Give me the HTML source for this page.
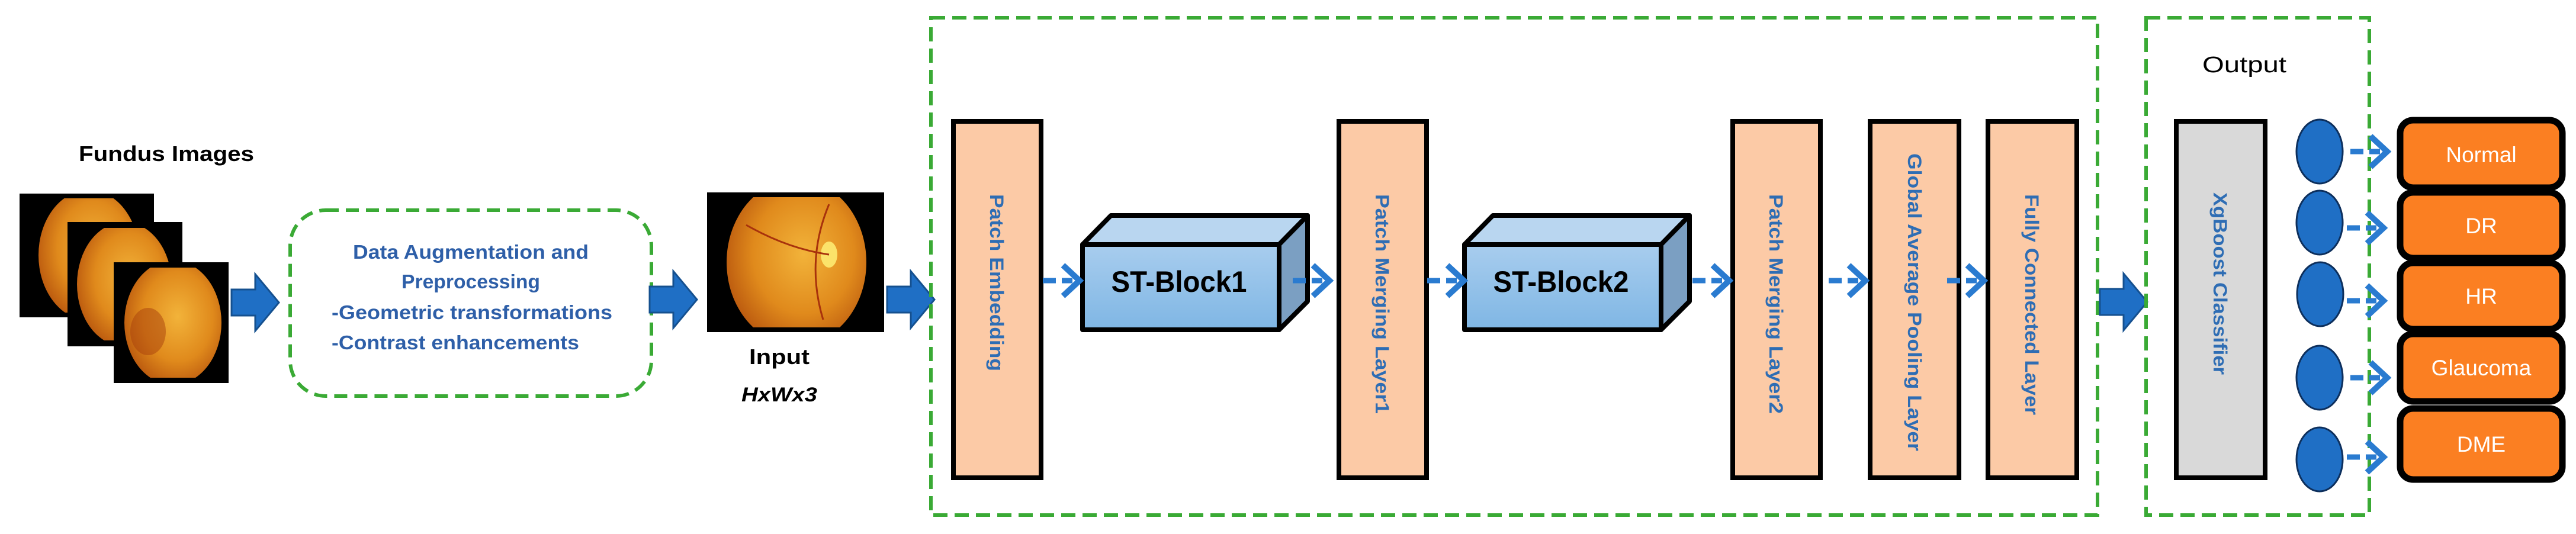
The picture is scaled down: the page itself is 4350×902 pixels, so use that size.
<!DOCTYPE html>
<html><head><meta charset="utf-8"><style>
html,body{margin:0;padding:0;background:#fff;}
svg{display:block;}
text{font-family:"Liberation Sans",sans-serif;}
</style></head><body>
<svg width="4350" height="902" viewBox="0 0 4350 902" xmlns="http://www.w3.org/2000/svg">
<defs>
<radialGradient id="eye" cx="0.55" cy="0.45" r="0.6">
<stop offset="0" stop-color="#f2b33a"/><stop offset="0.6" stop-color="#e08a1c"/><stop offset="1" stop-color="#b8560e"/>
</radialGradient>
<linearGradient id="stf" x1="0" y1="0" x2="0" y2="1"><stop offset="0" stop-color="#a8cdee"/><stop offset="1" stop-color="#7fb6e4"/></linearGradient>
<g id="chev">
<path d="M-62 0 h22 M-30 0 h18" stroke="#2a7bd0" stroke-width="9" fill="none"/>
<path d="M-28 -26 L0 0 L-28 26" stroke="#2a7bd0" stroke-width="10" fill="none"/>
</g>
<g id="bigarrow">
<path d="M0 -22 H40 V-48 L80 0 L40 48 V22 H0 Z" fill="#1f6fc5" stroke="#15508f" stroke-width="3"/>
</g>
</defs>

<text x="133" y="272" font-size="36" font-weight="bold" textLength="296" lengthAdjust="spacingAndGlyphs">Fundus Images</text>
<g>
<rect x="33" y="327" width="227" height="209" fill="#000"/>
<clipPath id="c1"><rect x="33" y="335" width="227" height="193"/></clipPath>
<ellipse cx="150" cy="431" rx="85" ry="110" fill="url(#eye)" clip-path="url(#c1)"/>
<rect x="114" y="375" width="194" height="210" fill="#000"/>
<clipPath id="c2"><rect x="114" y="385" width="194" height="190"/></clipPath>
<ellipse cx="210" cy="480" rx="80" ry="105" fill="url(#eye)" clip-path="url(#c2)"/>
<rect x="192" y="443" width="194" height="204" fill="#000"/>
<clipPath id="c3"><rect x="192" y="452" width="194" height="186"/></clipPath>
<ellipse cx="292" cy="545" rx="82" ry="105" fill="url(#eye)" clip-path="url(#c3)"/>
<ellipse cx="250" cy="560" rx="30" ry="40" fill="#a8400c" opacity="0.5"/>
</g>
<use href="#bigarrow" transform="translate(391,511)"/>

<rect x="490" y="355" width="610" height="314" rx="60" fill="none" stroke="#3aaa35" stroke-width="6" stroke-dasharray="22 12"/>
<g fill="#2e5fa8" font-weight="bold" font-size="33">
<text x="795" y="437" text-anchor="middle" textLength="398" lengthAdjust="spacingAndGlyphs">Data Augmentation and</text>
<text x="795" y="487" text-anchor="middle" textLength="234" lengthAdjust="spacingAndGlyphs">Preprocessing</text>
<text x="560" y="539" textLength="474" lengthAdjust="spacingAndGlyphs">-Geometric transformations</text>
<text x="560" y="590" textLength="418" lengthAdjust="spacingAndGlyphs">-Contrast enhancements</text>
</g>
<use href="#bigarrow" transform="translate(1097,506)"/>

<rect x="1194" y="325" width="299" height="236" fill="#000"/>
<clipPath id="c4"><rect x="1194" y="333" width="299" height="220"/></clipPath>
<ellipse cx="1345" cy="443" rx="118" ry="140" fill="url(#eye)" clip-path="url(#c4)"/>
<ellipse cx="1400" cy="430" rx="14" ry="22" fill="#fbe36a"/>
<path d="M1400 345 Q1360 440 1390 540 M1400 430 Q1330 420 1260 380" stroke="#a8320c" stroke-width="3" fill="none"/>
<text x="1316" y="615" font-size="36" font-weight="bold" text-anchor="middle" textLength="102" lengthAdjust="spacingAndGlyphs">Input</text>
<text x="1316" y="678" font-size="34" font-weight="bold" font-style="italic" text-anchor="middle" textLength="128" lengthAdjust="spacingAndGlyphs">HxWx3</text>
<use href="#bigarrow" transform="translate(1498,506)"/>

<rect x="1572" y="30" width="1970" height="840" fill="none" stroke="#3aaa35" stroke-width="6" stroke-dasharray="24 12"/>

<g stroke="#000" stroke-width="8" fill="#fccaa6">
<rect x="1610" y="205" width="148" height="602"/>
<rect x="2261" y="205" width="148" height="602"/>
<rect x="2926" y="205" width="148" height="602"/>
<rect x="3158" y="205" width="150" height="602"/>
<rect x="3357" y="205" width="150" height="602"/>
</g>
<rect x="3675" y="205" width="150" height="602" fill="#d9d9d9" stroke="#000" stroke-width="8"/>
<g fill="#2e6db4" font-size="32" font-weight="bold">
<text transform="translate(1672,328) rotate(90)" textLength="299" lengthAdjust="spacingAndGlyphs">Patch Embedding</text>
<text transform="translate(2323,328) rotate(90)" textLength="371" lengthAdjust="spacingAndGlyphs">Patch Merging Layer1</text>
<text transform="translate(2988,328) rotate(90)" textLength="371" lengthAdjust="spacingAndGlyphs">Patch Merging Layer2</text>
<text transform="translate(3222,259) rotate(90)" textLength="503" lengthAdjust="spacingAndGlyphs">Global Average Pooling Layer</text>
<text transform="translate(3420,328) rotate(90)" textLength="373" lengthAdjust="spacingAndGlyphs">Fully Connected Layer</text>
<text transform="translate(3738,325) rotate(90)" textLength="308" lengthAdjust="spacingAndGlyphs">XgBoost Classifier</text>
</g>

<g stroke="#000" stroke-width="8" stroke-linejoin="round">
<path d="M1828 413 L1876 364 H2208 L2160 413 Z" fill="#b9d6f0"/>
<path d="M2160 413 L2208 364 V509 L2160 557 Z" fill="#7b9fc2"/>
<rect x="1828" y="413" width="332" height="144" fill="url(#stf)"/>
<path d="M2473 413 L2521 364 H2853 L2805 413 Z" fill="#b9d6f0"/>
<path d="M2805 413 L2853 364 V509 L2805 557 Z" fill="#7b9fc2"/>
<rect x="2473" y="413" width="332" height="144" fill="url(#stf)"/>
</g>
<text x="1991" y="493" font-size="50" font-weight="bold" text-anchor="middle" textLength="229" lengthAdjust="spacingAndGlyphs">ST-Block1</text>
<text x="2636" y="493" font-size="50" font-weight="bold" text-anchor="middle" textLength="229" lengthAdjust="spacingAndGlyphs">ST-Block2</text>

<use href="#chev" transform="translate(1823,474)"/>
<use href="#chev" transform="translate(2245,474)"/>
<use href="#chev" transform="translate(2472,474)"/>
<use href="#chev" transform="translate(2920,474)"/>
<use href="#chev" transform="translate(3150,474)"/>
<use href="#chev" transform="translate(3350,474)"/>

<use href="#bigarrow" transform="translate(3546,510)"/>

<rect x="3624" y="30" width="377" height="840" fill="none" stroke="#3aaa35" stroke-width="6" stroke-dasharray="24 12"/>
<text x="3790" y="122" font-size="38" text-anchor="middle" textLength="142" lengthAdjust="spacingAndGlyphs">Output</text>

<g fill="#1f6fc5" stroke="#0d2f5c" stroke-width="3">
<ellipse cx="3917" cy="256" rx="39" ry="54"/>
<ellipse cx="3917" cy="376" rx="39" ry="54"/>
<ellipse cx="3918" cy="497" rx="39" ry="54"/>
<ellipse cx="3917" cy="638" rx="39" ry="54"/>
<ellipse cx="3917" cy="776" rx="39" ry="54"/>
</g>
<use href="#chev" transform="translate(4031,256)"/>
<use href="#chev" transform="translate(4025,385)"/>
<use href="#chev" transform="translate(4025,508)"/>
<use href="#chev" transform="translate(4031,638)"/>
<use href="#chev" transform="translate(4025,772)"/>

<g fill="#fb7f22" stroke="#000" stroke-width="11">
<rect x="4053" y="203" width="274" height="114" rx="22"/>
<rect x="4053" y="325" width="274" height="111" rx="22"/>
<rect x="4053" y="444" width="274" height="112" rx="22"/>
<rect x="4053" y="564" width="274" height="114" rx="22"/>
<rect x="4053" y="690" width="274" height="120" rx="22"/>
</g>
<g fill="#fff" font-size="37" text-anchor="middle">
<text x="4190" y="274">Normal</text>
<text x="4190" y="394">DR</text>
<text x="4190" y="513">HR</text>
<text x="4190" y="634">Glaucoma</text>
<text x="4190" y="763">DME</text>
</g>
</svg>
</body></html>
